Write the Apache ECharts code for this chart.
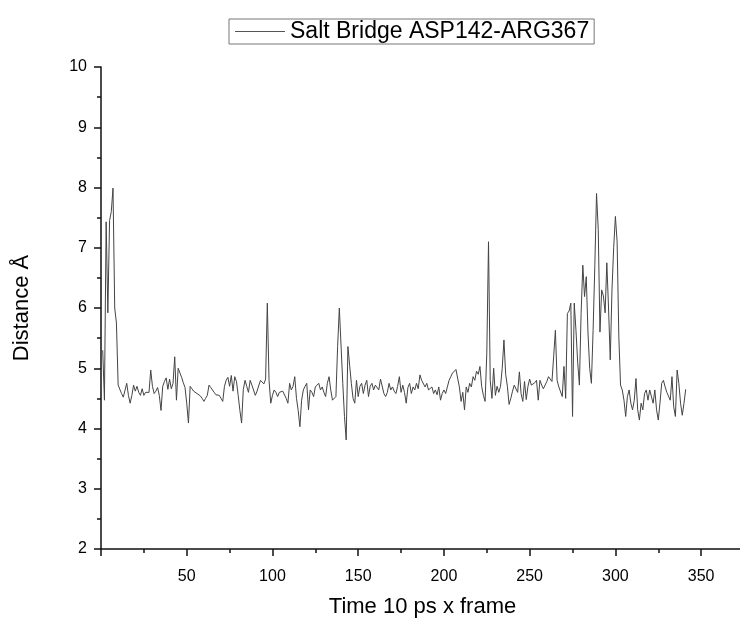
<!DOCTYPE html>
<html><head><meta charset="utf-8">
<script src="https://cdn.jsdelivr.net/npm/echarts@6/dist/echarts.min.js"></script>
<style>html,body{margin:0;padding:0;background:#fff}#c{width:740px;height:619px}</style>
</head><body><div id="c"></div>
<script>
const seriesName = 'Salt Bridge ASP142-ARG367';
const xTitle = 'Time 10 ps x frame';
const yTitle = 'Distance Å';
const xTickLabels = [50, 100, 150, 200, 250, 300, 350];
const yTickLabels = [2, 3, 4, 5, 6, 7, 8, 9, 10];
const firstFrame = 1;
const distance = [
  5.3, 4.47, 7.43, 5.92, 7.45, 7.6, 7.99, 6.0, 5.75, 4.72,
  4.7, 4.58, 4.52, 4.55, 4.75, 4.55, 4.42, 4.55, 4.72, 4.62,
  4.7, 4.6, 4.55, 4.66, 4.55, 4.6, 4.58, 4.6, 4.97, 4.7,
  4.58, 4.62, 4.68, 4.55, 4.3, 4.7, 4.78, 4.84, 4.65, 4.82,
  4.66, 4.75, 5.19, 4.47, 5.0, 4.97, 4.85, 4.76, 4.68, 4.42,
  4.09, 4.7, 4.66, 4.62, 4.6, 4.58, 4.56, 4.54, 4.5, 4.45,
  4.5, 4.55, 4.72, 4.68, 4.64, 4.6, 4.56, 4.55, 4.55, 4.5,
  4.45, 4.7, 4.8, 4.85, 4.7, 4.88, 4.62, 4.86, 4.78, 4.55,
  4.3, 4.09, 4.65, 4.8, 4.7, 4.6, 4.8, 4.72, 4.7, 4.55,
  4.62, 4.62, 4.8, 4.78, 4.74, 4.82, 6.08, 4.8, 4.42, 4.55,
  4.64, 4.6, 4.53, 4.6, 4.58, 4.62, 4.64, 4.5, 4.42, 4.75,
  4.64, 4.7, 4.86, 4.5, 4.3, 4.03, 4.47, 4.64, 4.7, 4.75,
  4.31, 4.64, 4.6, 4.53, 4.69, 4.72, 4.75, 4.64, 4.69, 4.6,
  4.53, 4.75, 4.86, 4.64, 4.47, 4.5, 4.53, 5.36, 6.0, 6.02,
  4.75, 4.2, 3.81, 5.36, 5.05, 4.75, 4.5, 4.42, 4.8, 4.53,
  4.7, 4.75, 4.58, 4.72, 4.8, 4.53, 4.7, 4.75, 4.64, 4.72,
  4.75, 4.64, 4.82, 4.83, 4.58, 4.53, 4.6, 4.75, 4.64, 4.69,
  4.62, 4.58, 4.7, 4.86, 4.6, 4.72, 4.6, 4.42, 4.68, 4.75,
  4.58, 4.69, 4.64, 4.75, 4.66, 4.89, 4.8, 4.82, 4.69, 4.75,
  4.64, 4.62, 4.69, 4.58, 4.64, 4.56, 4.69, 4.47, 4.58, 4.64,
  4.58, 4.69, 4.8, 4.86, 4.92, 4.95, 4.98, 5.0, 4.69, 4.45,
  4.6, 4.31, 4.69, 4.6, 4.75, 4.69, 4.86, 4.8, 4.95, 4.9,
  5.03, 4.7, 4.55, 4.45, 5.25, 7.1, 4.8, 4.5, 5.0, 4.55,
  4.7, 4.6, 4.7, 5.0, 5.47, 4.9, 4.7, 4.4, 4.5, 4.62,
  4.72, 4.7, 4.6, 4.94, 4.58, 4.45, 4.78, 4.48, 4.7, 4.82,
  4.72, 4.7, 4.76, 4.8, 4.47, 4.8, 4.72, 4.66, 4.64, 4.78,
  4.86, 4.84, 4.78, 5.2, 5.63, 4.8, 4.69, 4.72, 4.53, 5.03,
  4.5, 5.91, 5.95, 6.08, 4.2, 6.08, 5.63, 5.1, 4.72, 5.91,
  6.71, 6.19, 6.52, 5.6, 5.0, 4.75, 5.63, 6.7, 7.9, 7.3,
  5.6, 6.3, 6.2, 5.92, 6.75, 6.0, 5.14, 6.3, 7.0, 7.52,
  7.1, 5.52, 4.72, 4.64, 4.47, 4.2, 4.53, 4.64, 4.42, 4.31,
  4.47, 4.83, 4.31, 4.14, 4.42, 4.31, 4.58, 4.64, 4.47, 4.64,
  4.64, 4.42, 4.64, 4.31, 4.14, 4.42, 4.75, 4.8, 4.69, 4.6,
  4.58, 4.47, 4.86, 4.36, 4.2, 4.97, 4.75, 4.42, 4.22, 4.42,
  4.65
];

const points = distance.map((v, k) => [firstFrame + k, v]);
const font = "'Liberation Sans', Arial, sans-serif";
const chart = echarts.init(document.getElementById('c'));
chart.setOption({
  animation: false,
  backgroundColor: '#fff',
  textStyle: { fontFamily: font },
  legend: {
    data: [seriesName],
    left: 229, top: 19,
    padding: [1, 5, 1, 6],
    borderColor: '#777', borderWidth: 1,
    icon: 'rect', itemWidth: 50, itemHeight: 1, itemGap: 0,
    textStyle: { fontSize: 23, color: '#000', fontFamily: font, padding: [0, 0, 0, 0] }
  },
  grid: { left: 101, right: -4, top: 67, bottom: 70, containLabel: false, outerBoundsMode: 'none' },
  xAxis: {
    type: 'value', min: 0, max: 375, interval: 50,
    name: xTitle, nameLocation: 'middle', nameGap: 47,
    nameTextStyle: { fontSize: 22, color: '#000', fontFamily: font },
    axisLine: { onZero: false, lineStyle: { color: '#111', width: 1.5 } },
    axisTick: { show: true, length: 7, lineStyle: { color: '#111', width: 1.5 } },
    minorTick: { show: true, splitNumber: 2, length: 4, lineStyle: { color: '#111', width: 1.5 } },
    axisLabel: {
      fontSize: 16, color: '#000', margin: 20, fontFamily: font,
      formatter: v => xTickLabels.includes(v) ? String(v) : ''
    },
    splitLine: { show: false }
  },
  yAxis: {
    type: 'value', min: 2, max: 10, interval: 1,
    name: yTitle, nameLocation: 'middle', nameGap: 68, nameRotate: 90,
    nameTextStyle: { fontSize: 22, color: '#000', fontFamily: font },
    axisLine: { show: true, lineStyle: { color: '#111', width: 1.5 } },
    axisTick: { show: true, length: 7, lineStyle: { color: '#111', width: 1.5 } },
    minorTick: { show: true, splitNumber: 2, length: 4, lineStyle: { color: '#111', width: 1.5 } },
    axisLabel: {
      fontSize: 16, color: '#000', margin: 14, fontFamily: font,
      formatter: v => yTickLabels.includes(v) ? String(v) : ''
    },
    splitLine: { show: false }
  },
  series: [{
    name: seriesName, type: 'line', data: points,
    showSymbol: false, symbol: 'none',
    lineStyle: { color: '#444', width: 1 },
    itemStyle: { color: '#555' }
  }]
});
</script></body></html>
